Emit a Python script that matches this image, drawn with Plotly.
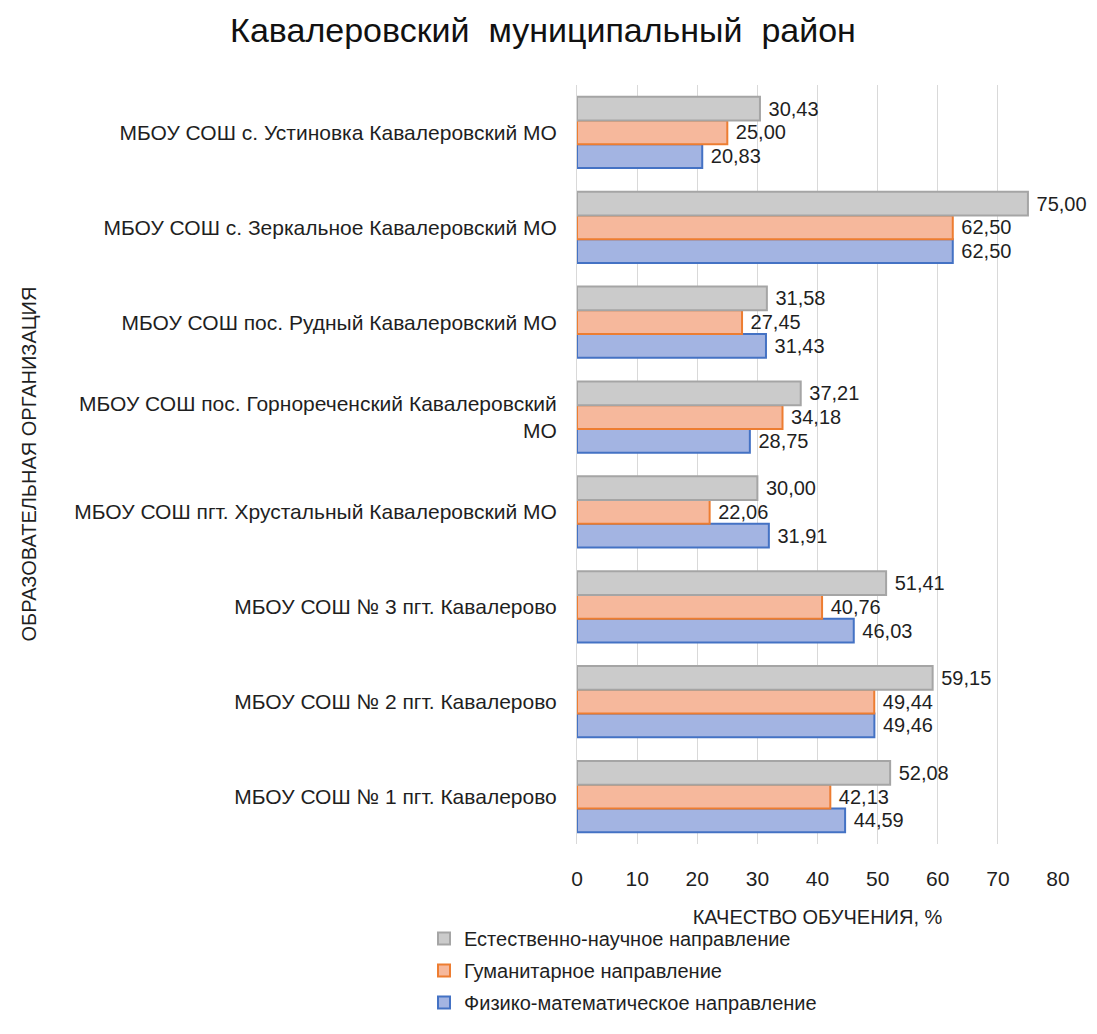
import plotly.graph_objects as go

# categories listed bottom -> top as they appear on the chart
schools = [
    "МБОУ СОШ № 1 пгт. Кавалерово",
    "МБОУ СОШ № 2 пгт. Кавалерово",
    "МБОУ СОШ № 3 пгт. Кавалерово",
    "МБОУ СОШ пгт. Хрустальный Кавалеровский МО",
    "МБОУ СОШ пос. Горнореченский Кавалеровский<br>МО",
    "МБОУ СОШ пос. Рудный Кавалеровский МО",
    "МБОУ СОШ с. Зеркальное Кавалеровский МО",
    "МБОУ СОШ с. Устиновка Кавалеровский МО",
]
fizmat = [44.59, 49.46, 46.03, 31.91, 28.75, 31.43, 62.50, 20.83]
gumanit = [42.13, 49.44, 40.76, 22.06, 34.18, 27.45, 62.50, 25.00]
estnauch = [52.08, 59.15, 51.41, 30.00, 37.21, 31.58, 75.00, 30.43]

series = [
    ("Физико-математическое направление", fizmat, "#a3b4e2", "#4472c4"),
    ("Гуманитарное направление", gumanit, "#f6b89c", "#ed7d31"),
    ("Естественно-научное направление", estnauch, "#cbcbcb", "#a5a5a5"),
]

FONT = "Liberation Sans"
INK = "#1f1f1f"
W, H = 1089, 1026  # page adds an 8px body margin
L, R, T, B = 569, 39, 77, 181
PW, PH = W - L - R, H - T - B

fig = go.Figure()
for i, (name, vals, fill, line) in enumerate(series):
    fig.add_trace(go.Bar(
        y=schools, x=vals, name=name, orientation="h",
        marker=dict(color=fill, line=dict(color=line, width=2)),
        text=["\u00a0" + f"{v:.2f}".replace(".", ",") for v in vals],
        textposition="outside", constraintext="none", cliponaxis=False,
        textfont=dict(size=20, color=INK, family=FONT),
        legendgroup=str(i), legendrank=len(series) - i,
    ))

fig.update_layout(
    width=W, height=H,
    margin=dict(l=L, r=R, t=T, b=B),
    paper_bgcolor="white", plot_bgcolor="white",
    barmode="group", bargap=0.25, bargroupgap=0,
    font=dict(family=FONT, size=21, color=INK),
    title=dict(text="Кавалеровский  муниципальный  район", x=(543 - 8) / W,
               xanchor="center", y=1 - 22 / H, yanchor="middle",
               font=dict(size=34, color="#111111", family=FONT)),
    legend=dict(orientation="v", traceorder="grouped", tracegroupgap=3,
                x=(424 - 8 - L) / PW, xanchor="left",
                y=-(B - 1) / PH, yanchor="bottom",
                font=dict(size=20, family=FONT, color=INK)),
    showlegend=True,
)
fig.update_xaxes(range=[0, 80], dtick=10, showgrid=True, gridcolor="#d9d9d9",
                 zeroline=False, showline=False, ticks="",
                 tickfont=dict(size=21), ticklabelstandoff=20,
                 title=dict(text="КАЧЕСТВО ОБУЧЕНИЯ, %", font=dict(size=20), standoff=20))
fig.update_yaxes(showgrid=False, showline=True, linecolor="#d9d9d9", ticks="",
                 ticklabelstandoff=15, tickfont=dict(size=21))
fig.add_annotation(text="ОБРАЗОВАТЕЛЬНАЯ ОРГАНИЗАЦИЯ", textangle=-90,
                   xref="paper", yref="paper", x=(20 - L) / PW, y=0.5,
                   xanchor="center", showarrow=False, font=dict(size=20))

fig.write_html("out.html")
